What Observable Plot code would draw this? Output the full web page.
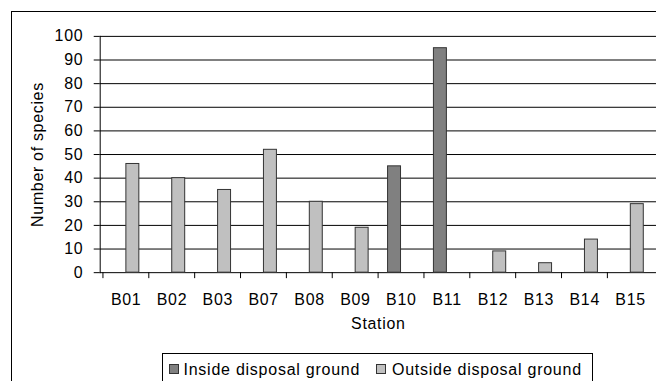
<!DOCTYPE html>
<html>
<head>
<meta charset="utf-8">
<script src="https://cdn.jsdelivr.net/npm/d3@7"></script>
<script src="https://cdn.jsdelivr.net/npm/@observablehq/plot@0.6"></script>
<style>
  html, body { margin: 0; padding: 0; background: #fff; overflow: hidden; width: 656px; height: 381px; }
  body { position: relative; font-family: "Liberation Sans", Arial, sans-serif; }
  #outer { position: absolute; left: 11px; top: 11px; width: 700px; height: 420px; border: 1px solid #000; box-sizing: border-box; }
  #chart { position: absolute; left: 0; top: 0; }
  #chart svg text { letter-spacing: 0.7px; }
  #legend { position: absolute; left: 162px; top: 353px; width: 431px; height: 40px; border: 1px solid #000; box-sizing: border-box; background: #fff; }
  .sw { position: absolute; width: 10px; height: 10px; box-sizing: border-box; border: 1px solid #333; top: 10px; }
  .lt { position: absolute; top: 7.5px; font-size: 16px; line-height: 16px; letter-spacing: 0.75px; color: #000; white-space: nowrap; }
</style>
</head>
<body>
<div id="outer"></div>
<div id="chart"></div>
<div id="legend"></div>
<script>
const stations = ["B01","B02","B03","B07","B08","B09","B10","B11","B12","B13","B14","B15"];
const inside  = [0, 0, 0, 0, 0, 0, 45, 95, 0, 0, 0, 0];
const outside = [46, 40, 35, 52, 30, 19, 0, 0, 9, 4, 14, 29];
const seriesNames = ["Inside disposal ground", "Outside disposal ground"];
const seriesColors = ["#808080", "#c0c0c0"];
const yTicks = [0, 10, 20, 30, 40, 50, 60, 70, 80, 90, 100];

const insideData = stations.map((s, i) => ({station: s, value: inside[i]})).filter(d => d.value > 0);
const outsideData = stations.map((s, i) => ({station: s, value: outside[i]})).filter(d => d.value > 0);

const W = 658, mL = 100, mR = 0;
const band = (W - mL - mR) / stations.length;
const barW = 13.5;

const chart = Plot.plot({
  width: W,
  height: 381,
  marginLeft: mL,
  marginRight: mR,
  marginTop: 36,
  marginBottom: 108,
  style: {fontFamily: "'Liberation Sans', Arial, sans-serif", fontSize: "16px", color: "#000", background: "transparent"},
  x: {type: "band", domain: stations, paddingInner: 0, paddingOuter: 0},
  y: {domain: [0, 100]},
  marks: [
    Plot.ruleY(yTicks, {stroke: "#000", strokeWidth: 1}),
    Plot.barY(insideData, {x: "station", y: "value", fill: seriesColors[0], stroke: "#333", strokeWidth: 1,
      insetLeft: band / 2 - barW, insetRight: band / 2}),
    Plot.barY(outsideData, {x: "station", y: "value", fill: seriesColors[1], stroke: "#333", strokeWidth: 1,
      insetLeft: band / 2, insetRight: band / 2 - barW}),
    Plot.frame({anchor: "left", stroke: "#000"}),
    Plot.axisY({ticks: yTicks, tickSize: 6, tickPadding: 11, fontSize: 16, label: null, stroke: "#000"}),
    Plot.axisX({tickSize: 0, tickPadding: 21, fontSize: 16, label: null}),
    Plot.axisX({text: null, tickSize: 6, dx: -band / 2, label: null, stroke: "#000"}),
    Plot.text(["Station"], {frameAnchor: "bottom", dy: 57, fontSize: 16}),
    Plot.text(["Number of species"], {frameAnchor: "left", dx: -63, rotate: -90, textAnchor: "middle", fontSize: 16})
  ]
});
document.getElementById("chart").appendChild(chart);

// legend
const legend = document.getElementById("legend");
const swX = [6, 212.5];
const txX = [20.5, 229];
seriesNames.forEach((name, i) => {
  const sw = document.createElement("div");
  sw.className = "sw";
  sw.style.left = swX[i] + "px";
  sw.style.background = seriesColors[i];
  legend.appendChild(sw);
  const t = document.createElement("div");
  t.className = "lt";
  t.style.left = txX[i] + "px";
  t.textContent = name;
  legend.appendChild(t);
});
</script>
</body>
</html>
